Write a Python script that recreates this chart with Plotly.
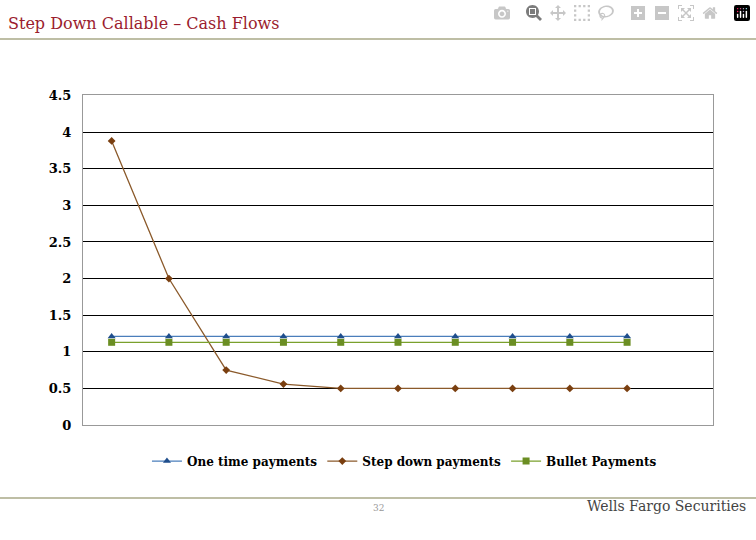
import plotly.graph_objects as go

periods = [1, 2, 3, 4, 5, 6, 7, 8, 9, 10]
one_time = [1.21] * 10
step_down = [3.88, 2.0, 0.75, 0.56, 0.5, 0.5, 0.5, 0.5, 0.5, 0.5]
bullet = [1.13] * 10

fig = go.Figure()
fig.add_trace(go.Scatter(x=periods, y=one_time, name="<b>One time payments</b>", mode="lines+markers",
                         line=dict(color="#4a7ebb", width=1.3), marker=dict(symbol="triangle-up", size=7, color="#1f4e8c")))
fig.add_trace(go.Scatter(x=periods, y=step_down, name="<b>Step down payments</b>", mode="lines+markers",
                         line=dict(color="#8b5a2b", width=1.3), marker=dict(symbol="diamond", size=6, color="#7a3f10")))
fig.add_trace(go.Scatter(x=periods, y=bullet, name="<b>Bullet Payments</b>", mode="lines+markers",
                         line=dict(color="#7aa02c", width=1.3), marker=dict(symbol="square", size=7, color="#6b8e23")))

fig.update_layout(
    width=756, height=540, paper_bgcolor="white", plot_bgcolor="white",
    margin=dict(l=0, r=0, t=0, b=0), showlegend=True,
    legend=dict(orientation="h", x=0.535, xanchor="center", y=1-467/540, yanchor="middle",
                font=dict(family="DejaVu Serif", size=12, color="black"), bgcolor="rgba(0,0,0,0)"),
    xaxis=dict(domain=[83/756, 713/756], range=[0.5, 11.5], showticklabels=False, showgrid=False,
               zeroline=False, showline=True, linecolor="#999999", mirror=True, fixedrange=True),
    yaxis=dict(domain=[1-430/540, 1-91/540], range=[0, 4.5], dtick=0.5, showgrid=True, gridcolor="black",
               gridwidth=1, zeroline=False, showline=True, linecolor="#999999", mirror=True,
               tickfont=dict(family="DejaVu Serif", size=13, color="black", weight="bold"), ticks="",
               ticklabelstandoff=8, tickformat="~g"),
    shapes=[
        dict(type="line", xref="paper", yref="paper", x0=0, x1=1, y0=1-33/540, y1=1-33/540,
             line=dict(color="#a8a887", width=1.5)),
        dict(type="line", xref="paper", yref="paper", x0=0, x1=1, y0=1-505/540, y1=1-505/540,
             line=dict(color="#a8a887", width=1.5)),
    ],
    annotations=[
        dict(text="Step Down Callable – Cash Flows", x=6/756, y=1-17/540, xref="paper", yref="paper",
             xanchor="left", yanchor="middle", showarrow=False,
             font=dict(family="DejaVu Serif", size=16, color="#9b1c2e")),
        dict(text="32", x=378/756, y=1-522/540, xref="paper", yref="paper", showarrow=False,
             font=dict(family="DejaVu Serif", size=9, color="#999999")),
        dict(text="Wells Fargo Securities", x=748/756, y=1-524/540, xref="paper", yref="paper",
             xanchor="right", showarrow=False, font=dict(family="DejaVu Serif", size=14, color="#444444")),
    ],
)
fig.write_html("out.html", post_script="document.body.style.margin='0';document.body.style.overflow='hidden';")
